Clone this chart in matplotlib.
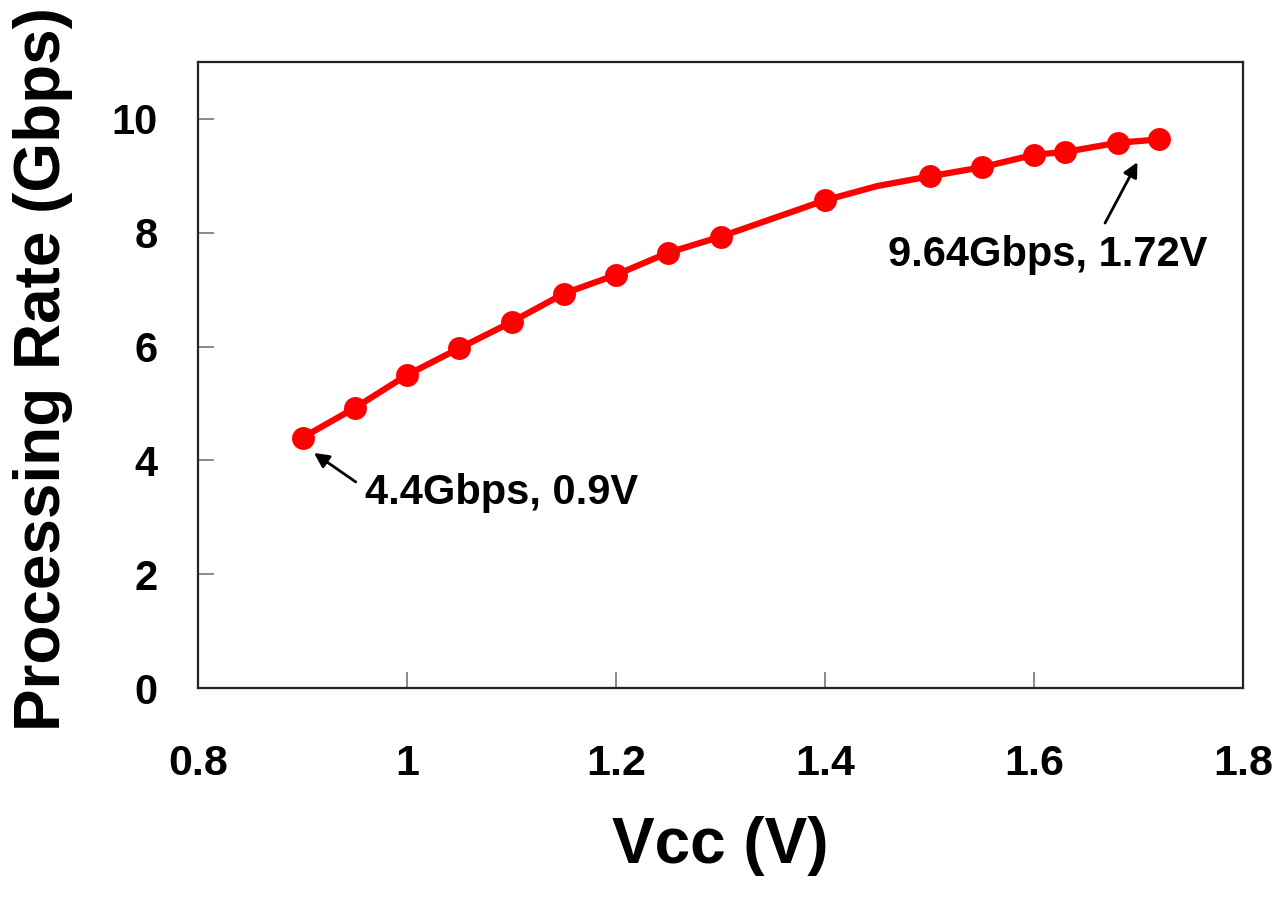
import matplotlib.pyplot as plt

plt.rcParams['font.family'] = ['Liberation Sans', 'DejaVu Sans']
plt.rcParams['font.weight'] = 'bold'

# Vcc (V) vs processing rate (Gbps)
vcc = [0.9, 0.95, 1.0, 1.05, 1.1, 1.15, 1.2, 1.25, 1.3, 1.4, 1.5, 1.55, 1.6, 1.63, 1.68, 1.72]
rate = [4.4, 4.92, 5.5, 5.97, 6.43, 6.93, 7.26, 7.65, 7.93, 8.57, 8.99, 9.15, 9.37, 9.42, 9.58, 9.64]

# the drawn line has one extra bend between 1.4 and 1.5
line_vcc = [0.9, 0.95, 1.0, 1.05, 1.1, 1.15, 1.2, 1.25, 1.3, 1.4, 1.45, 1.5, 1.55, 1.6, 1.63, 1.68, 1.72]
line_rate = [4.4, 4.92, 5.5, 5.97, 6.43, 6.93, 7.26, 7.65, 7.93, 8.57, 8.82, 8.99, 9.15, 9.37, 9.42, 9.58, 9.64]

xticks = [0.8, 1.0, 1.2, 1.4, 1.6, 1.8]
xticklabels = ['0.8', '1', '1.2', '1.4', '1.6', '1.8']
yticks = [0, 2, 4, 6, 8, 10]

fig = plt.figure(figsize=(12.83, 9.02), dpi=100)
ax = fig.add_axes([198 / 1283, 1 - 688 / 902, 1045 / 1283, 626 / 902])

ax.plot(line_vcc, line_rate, color='#ff0000', lw=4.5, solid_joinstyle='round')
ax.plot(vcc, rate, 'o', color='#ff0000', markersize=16.5, markeredgewidth=0)

ax.set_xlim(0.8, 1.8)
ax.set_ylim(0, 11)
ax.set_xticks(xticks)
ax.set_xticklabels(xticklabels)
ax.set_yticks(yticks)

ax.tick_params(axis='both', direction='in', length=11.5, width=1.2, color='#777777')
ax.tick_params(axis='x', pad=40, labelsize=31)
ax.tick_params(axis='y', pad=29, labelsize=30)
for lab in ax.get_xticklabels() + ax.get_yticklabels():
    lab.set_fontweight('bold')
for sp in ax.spines.values():
    sp.set_linewidth(1.6)
    sp.set_color('#222222')

ax.set_xlabel('Vcc (V)', fontsize=46, fontweight='bold')
ax.set_ylabel('Processing Rate (Gbps)', fontsize=46, fontweight='bold')
ax.xaxis.set_label_coords(0.5, -0.205)
ax.yaxis.set_label_coords(-0.12, 0.51)

arrow = dict(arrowstyle='-|>', color='black', lw=2, mutation_scale=22, shrinkA=0, shrinkB=0)
ax.annotate('', xy=(0.911, 4.13), xytext=(0.951, 3.62), arrowprops=arrow)
ax.text(0.96, 3.43, '4.4Gbps, 0.9V', fontsize=30, fontweight='bold', va='center', ha='left')
ax.annotate('', xy=(1.699, 9.24), xytext=(1.668, 8.17), arrowprops=arrow)
ax.text(1.46, 7.61, '9.64Gbps, 1.72V', fontsize=30, fontweight='bold', va='center', ha='left')

fig.savefig('out.png', dpi=100)
